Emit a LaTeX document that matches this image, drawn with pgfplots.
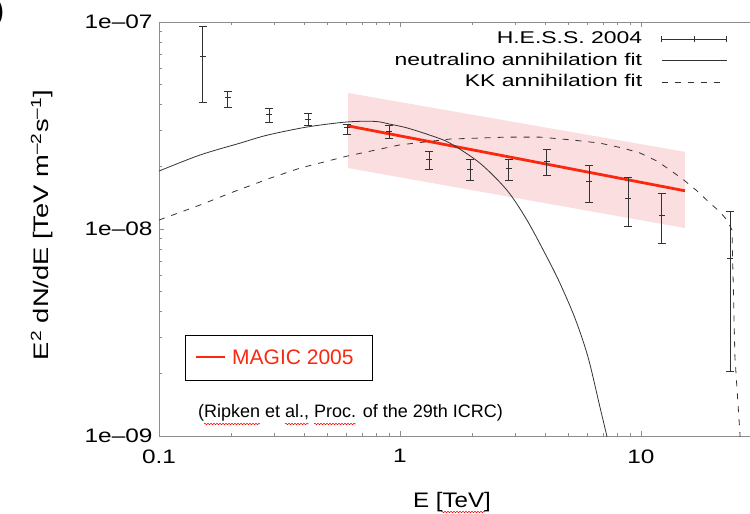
\documentclass[border=0pt]{standalone}
\usepackage{fontspec}
\setmainfont{Liberation Sans}[FakeStretch=1.3]
\newfontfamily\plainsans{Liberation Sans}
\newfontfamily\tickfont{Liberation Sans}[FakeStretch=1.25]
\newfontfamily\legfont{Liberation Sans}[FakeStretch=1.35]
\newfontfamily\xlabfont{Liberation Sans}[FakeStretch=1.15]
\usepackage{pgfplots}
\pgfplotsset{compat=1.18}
\usepackage{pgfplotstable}
\usetikzlibrary{decorations.pathmorphing}
\definecolor{pinkband}{RGB}{251,222,224}
\definecolor{magred}{RGB}{250,40,15}
\definecolor{axgray}{RGB}{140,140,140}
\definecolor{datgray}{RGB}{50,50,50}

\pgfplotstableread{
E F ep em
0.152 6.85e-8 2.71e-8 2.74e-8
0.193 4.30e-8 0.34e-8 0.42e-8
0.286 3.59e-8 0.25e-8 0.30e-8
0.415 3.40e-8 0.23e-8 0.22e-8
0.603 3.08e-8 0.14e-8 0.20e-8
0.900 2.97e-8 0.21e-8 0.22e-8
1.319 2.18e-8 0.18e-8 0.23e-8
1.952 1.95e-8 0.21e-8 0.24e-8
2.83 1.97e-8 0.21e-8 0.26e-8
4.07 2.13e-8 0.30e-8 0.31e-8
6.09 1.69e-8 0.33e-8 0.34e-8
8.83 1.41e-8 0.37e-8 0.38e-8
12.2 1.17e-8 0.32e-8 0.314e-8
23.4 7.24e-9 4.96e-9 5.18e-9
}\hess

\begin{document}
\begin{tikzpicture}[x=1pt,y=1pt]
\useasboundingbox (0,0) rectangle (750,514);
\begin{axis}[
  at={(159pt,78pt)}, anchor=south west,
  scale only axis, width=627pt, height=414pt,
  xmode=log, ymode=log,
  xmin=0.1, xmax=40, ymin=1e-9, ymax=1e-7,
  axis line style={axgray, line width=0.8pt},
  tick style={axgray, line width=0.6pt},
  major tick length=5pt, minor tick length=3pt,
  xtick={0.1,1,10}, xticklabels={0.1,1,10},
  ytick={1e-9,1e-8,1e-7},
  yticklabels={1e\textendash 09,1e\textendash 08,1e\textendash 07},
  tick label style={font=\tickfont\fontsize{19.5}{21}\selectfont},
  xticklabel style={yshift=-10pt},
  yticklabel style={xshift=-3pt},
  xlabel={E [TeV]},
  xlabel style={at={(axis description cs:0.4673,-0.1606)}, anchor=center, font=\xlabfont\fontsize{21}{23}\selectfont},
  ylabel={E\textsuperscript{2} dN/dE [TeV m\textsuperscript{\textendash 2}s\textsuperscript{\textendash 1}]},
  ylabel style={at={(axis description cs:-0.1866,0.5097)}, anchor=center, font=\fontsize{21}{23}\selectfont},
  legend plot pos=right,
  legend cell align=right,
  reverse legend,
  legend style={at={(axis description cs:0.9059,0.9795)}, anchor=north east,
    draw=none, fill=none, inner sep=0pt, outer sep=0pt,
    row sep=4.5pt, column sep=19pt,
    font=\legfont\fontsize{17}{20}\selectfont,
    nodes={inner sep=0pt, text height=13pt, text depth=4pt}},
]
\addplot[fill=pinkband, draw=none, forget plot] coordinates {
  (0.609,4.54e-8) (15.23,2.36e-8) (15.23,1.011e-8) (0.609,1.97e-8)} -- cycle;
\addplot[magred, line width=2.8pt, forget plot] coordinates {(0.609,3.15e-8) (15.23,1.53e-8)};

\addplot[black!80, line width=0.8pt, dash pattern=on 6pt off 7pt,
  legend image code/.code={\draw[black!80, line width=0.8pt, dash pattern=on 6pt off 7pt] (0pt,0pt) -- (65pt,0pt);}] coordinates {
(0.1,1.105e-8) (0.148,1.306e-8) (0.203,1.51e-8) (0.289,1.76e-8) (0.385,1.97e-8)
(0.603,2.25e-8) (1.0,2.55e-8) (1.612,2.72e-8) (2.78,2.78e-8) (3.81,2.78e-8)
(5.22,2.69e-8) (6.76,2.60e-8) (8.42,2.46e-8) (9.91,2.33e-8) (11.65,2.13e-8)
(13.19,1.93e-8) (14.93,1.74e-8) (17.07,1.53e-8) (19.33,1.335e-8) (21.28,1.21e-8)
(22.75,1.105e-8) (23.87,9.89e-9) (24.55,2.41e-9) (25.75,1.034e-9) (26.0,7.66e-10)};
\addlegendentry{KK annihilation fit}

\addplot[black!80, line width=0.8pt, smooth,
  legend image code/.code={\draw[black!80, line width=0.8pt] (0pt,0pt) -- (65pt,0pt);}] coordinates {
(0.100,1.906e-8) (0.148,2.278e-8) (0.217,2.60e-8) (0.281,2.84e-8) (0.411,3.11e-8)
(0.603,3.29e-8) (0.788,3.31e-8) (0.910,3.21e-8) (1.069,3.08e-8) (1.332,2.84e-8)
(1.612,2.60e-8) (2.148,2.08e-8) (2.78,1.54e-8) (3.365,1.105e-8) (4.07,7.33e-9)
(4.61,5.48e-9) (5.32,3.72e-9) (6.03,2.41e-9) (6.76,1.38e-9) (7.22,1.0e-9) (7.58,7.66e-10)};
\addlegendentry{neutralino annihilation fit}

\addplot[datgray, only marks, mark=-, mark options={datgray, mark size=3pt, line width=0.8pt},
  legend image code/.code={\draw[datgray, line width=0.8pt] (0pt,0pt) -- (65pt,0pt) (0pt,-3pt) -- (0pt,3pt) (65pt,-3pt) -- (65pt,3pt) (32.5pt,-3pt) -- (32.5pt,3pt);},
  error bars/.cd, y dir=both, y explicit, error mark=-,
  error mark options={rotate=90, datgray, mark size=4pt, line width=0.8pt},
  error bar style={datgray, line width=0.8pt}]
  table[x=E, y=F, y error plus=ep, y error minus=em] {\hess};
\addlegendentry{H.E.S.S. 2004}
\end{axis}
% MAGIC legend box
\draw[black, line width=0.8pt] (185,134) rectangle (372,179);
\draw[magred, line width=2.5pt] (196,157) -- (225,157);
\node[anchor=base west, inner sep=0pt, text=magred, font=\plainsans\fontsize{21}{24}\selectfont] at (232,149.5) {MAGIC 2005};
% citation
\node[anchor=base west, inner sep=0pt, font=\plainsans\fontsize{18}{20}\selectfont] at (198,96.5) {(Ripken et al., Proc. of the 29th ICRC)};
\draw[red, line width=0.5pt, decorate, decoration={snake, amplitude=0.8pt, segment length=3pt}] (204,90) -- (260,90);
\draw[red, line width=0.5pt, decorate, decoration={snake, amplitude=0.8pt, segment length=3pt}] (285,90) -- (309,90);
\draw[red, line width=0.5pt, decorate, decoration={snake, amplitude=0.8pt, segment length=3pt}] (314,90) -- (356,90);
\draw[red, line width=0.5pt, decorate, decoration={snake, amplitude=0.8pt, segment length=3pt}] (441,2) -- (485,2);
\node[anchor=base west, inner sep=0pt, font=\plainsans\bfseries\fontsize{26}{28}\selectfont] at (-5,494) {)};
\end{tikzpicture}
\end{document}
